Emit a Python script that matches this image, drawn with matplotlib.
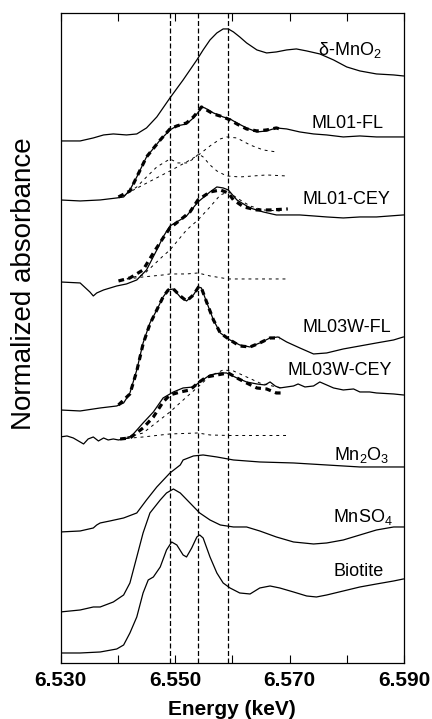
import matplotlib
matplotlib.use("Agg")
import matplotlib.pyplot as plt
import numpy as np

plt.rcParams['font.family'] = ['Liberation Sans', 'DejaVu Sans']
plt.rcParams['mathtext.fontset'] = 'custom'
plt.rcParams['mathtext.rm'] = 'Liberation Sans'
plt.rcParams['mathtext.it'] = 'Liberation Sans:italic'
plt.rcParams['mathtext.bf'] = 'Liberation Sans:bold'

# stacked spectra (energy in keV, normalized absorbance + offset)
mno2_e = [6.5299, 6.5334, 6.5357, 6.5375, 6.5392, 6.5415, 6.5433, 6.5450, 6.5468, 6.5491,
          6.5514, 6.5538, 6.5549, 6.5561, 6.5573, 6.5584, 6.5593, 6.5602, 6.5613, 6.5625,
          6.5643, 6.5660, 6.5677, 6.5695, 6.5712, 6.5730, 6.5753, 6.5777, 6.5800, 6.5823,
          6.5852, 6.5882, 6.5899]
mno2_y = [5.22, 5.22, 5.25, 5.28, 5.29, 5.28, 5.29, 5.35, 5.46, 5.65,
          5.83, 6.03, 6.13, 6.23, 6.30, 6.34, 6.34, 6.31, 6.26, 6.20,
          6.13, 6.10, 6.11, 6.13, 6.14, 6.12, 6.09, 6.03, 5.96, 5.92,
          5.89, 5.88, 5.87]

ml01fl_e = [6.5299, 6.5334, 6.5369, 6.5398, 6.5410, 6.5421, 6.5433, 6.5450, 6.5474, 6.5491,
            6.5503, 6.5520, 6.5532, 6.5541, 6.5546, 6.5552, 6.5567, 6.5584, 6.5596, 6.5608,
            6.5625, 6.5643, 6.5660, 6.5677, 6.5695, 6.5718, 6.5742, 6.5765, 6.5794, 6.5823,
            6.5852, 6.5899]
ml01fl_y = [4.63, 4.62, 4.63, 4.65, 4.66, 4.73, 4.86, 5.06, 5.23, 5.33,
            5.37, 5.39, 5.45, 5.51, 5.56, 5.55, 5.50, 5.46, 5.44, 5.40,
            5.35, 5.31, 5.32, 5.35, 5.34, 5.31, 5.29, 5.28, 5.26, 5.27,
            5.26, 5.26]
ml01fl_fit_e = [6.5401, 6.5421, 6.5433, 6.5450, 6.5474, 6.5491, 6.5503, 6.5520, 6.5532, 6.5541,
                6.5546, 6.5555, 6.5567, 6.5584, 6.5596, 6.5608, 6.5625, 6.5643, 6.5660, 6.5677, 6.5683]
ml01fl_fit_y = [4.66, 4.72, 4.86, 5.06, 5.23, 5.34, 5.37, 5.40, 5.46, 5.52,
                5.56, 5.53, 5.49, 5.46, 5.43, 5.39, 5.34, 5.32, 5.33, 5.35, 5.34]
ml01fl_c1_e = [6.5410, 6.5433, 6.5450, 6.5468, 6.5491, 6.5505, 6.5520, 6.5532, 6.5541, 6.5549,
               6.5561, 6.5573, 6.5590, 6.5613, 6.5637, 6.5660, 6.5695]
ml01fl_c1_y = [4.67, 4.76, 4.86, 4.96, 5.04, 5.00, 5.00, 5.04, 5.09, 5.06,
               4.98, 4.92, 4.87, 4.86, 4.87, 4.88, 4.87]
ml01fl_c2_e = [6.5404, 6.5444, 6.5491, 6.5520, 6.5541, 6.5561, 6.5579, 6.5590, 6.5608, 6.5631,
               6.5654, 6.5677]
ml01fl_c2_y = [4.66, 4.78, 4.92, 5.01, 5.08, 5.17, 5.24, 5.26, 5.25, 5.18,
               5.13, 5.11]

ml01cey_e = [6.5299, 6.5334, 6.5351, 6.5357, 6.5363, 6.5375, 6.5398, 6.5415, 6.5433, 6.5450,
             6.5468, 6.5479, 6.5491, 6.5503, 6.5520, 6.5540, 6.5561, 6.5573, 6.5584, 6.5593,
             6.5608, 6.5631, 6.5654, 6.5677, 6.5701, 6.5718, 6.5742, 6.5765, 6.5794, 6.5823,
             6.5852, 6.5899]
ml01cey_y = [3.81, 3.80, 3.71, 3.67, 3.70, 3.73, 3.77, 3.79, 3.83, 3.93,
             4.13, 4.26, 4.37, 4.41, 4.47, 4.61, 4.71, 4.76, 4.75, 4.73,
             4.63, 4.55, 4.51, 4.48, 4.48, 4.48, 4.47, 4.46, 4.45, 4.46,
             4.46, 4.48]
ml01cey_fit_e = [6.5401, 6.5421, 6.5444, 6.5462, 6.5479, 6.5491, 6.5509, 6.5526, 6.5540, 6.5561,
                 6.5579, 6.5593, 6.5602, 6.5620, 6.5643, 6.5666, 6.5697]
ml01cey_fit_y = [3.82, 3.85, 3.93, 4.10, 4.25, 4.35, 4.43, 4.51, 4.63, 4.71,
                 4.73, 4.70, 4.63, 4.56, 4.53, 4.53, 4.54]
ml01cey_c1_e = [6.5404, 6.5444, 6.5479, 6.5491, 6.5520, 6.5540, 6.5561, 6.5579, 6.5593, 6.5608,
                6.5631, 6.5654, 6.5683]
ml01cey_c1_y = [3.83, 3.88, 4.07, 4.13, 4.33, 4.43, 4.56, 4.68, 4.71, 4.65,
                4.57, 4.53, 4.52]
ml01cey_c2_e = [6.5404, 6.5444, 6.5479, 6.5491, 6.5520, 6.5540, 6.5561, 6.5593, 6.5631, 6.5695]
ml01cey_c2_y = [3.83, 3.86, 3.88, 3.89, 3.89, 3.90, 3.87, 3.84, 3.84, 3.84]

ml03fl_e = [6.5299, 6.5334, 6.5369, 6.5398, 6.5410, 6.5421, 6.5433, 6.5444, 6.5456, 6.5468,
            6.5479, 6.5488, 6.5497, 6.5509, 6.5520, 6.5532, 6.5541, 6.5546, 6.5555, 6.5567,
            6.5579, 6.5596, 6.5613, 6.5631, 6.5648, 6.5666, 6.5680, 6.5695, 6.5718, 6.5742,
            6.5765, 6.5794, 6.5823, 6.5852, 6.5882, 6.5899]
ml03fl_y = [2.53, 2.52, 2.55, 2.57, 2.60, 2.70, 2.93, 3.20, 3.40, 3.53,
            3.66, 3.73, 3.74, 3.66, 3.62, 3.68, 3.76, 3.75, 3.61, 3.43,
            3.30, 3.23, 3.18, 3.16, 3.20, 3.25, 3.26, 3.21, 3.15, 3.09,
            3.10, 3.14, 3.17, 3.20, 3.23, 3.26]
ml03fl_fit_e = [6.5401, 6.5421, 6.5433, 6.5444, 6.5456, 6.5468, 6.5479, 6.5488, 6.5497, 6.5509,
                6.5520, 6.5532, 6.5541, 6.5546, 6.5555, 6.5567, 6.5579, 6.5596, 6.5613, 6.5631,
                6.5648, 6.5666, 6.5683]
ml03fl_fit_y = [2.58, 2.69, 2.92, 3.19, 3.39, 3.53, 3.66, 3.73, 3.74, 3.67,
                3.62, 3.68, 3.76, 3.75, 3.61, 3.43, 3.30, 3.23, 3.17, 3.16,
                3.20, 3.25, 3.25]

ml03cey_e = [6.5299, 6.5311, 6.5322, 6.5331, 6.5340, 6.5348, 6.5357, 6.5366, 6.5375, 6.5383,
             6.5392, 6.5401, 6.5410, 6.5418, 6.5427, 6.5444, 6.5462, 6.5479, 6.5497, 6.5514,
             6.5532, 6.5543, 6.5561, 6.5579, 6.5590, 6.5608, 6.5625, 6.5643, 6.5657, 6.5666,
             6.5675, 6.5683, 6.5695, 6.5707, 6.5715, 6.5727, 6.5742, 6.5753, 6.5765, 6.5777,
             6.5794, 6.5812, 6.5823, 6.5840, 6.5852, 6.5882, 6.5899]
ml03cey_y = [2.26, 2.27, 2.25, 2.22, 2.19, 2.24, 2.26, 2.22, 2.25, 2.23,
             2.24, 2.23, 2.24, 2.25, 2.29, 2.40, 2.51, 2.65, 2.71, 2.75,
             2.76, 2.81, 2.88, 2.90, 2.90, 2.85, 2.81, 2.79, 2.78, 2.81,
             2.77, 2.75, 2.76, 2.77, 2.79, 2.76, 2.77, 2.81, 2.78, 2.75,
             2.73, 2.74, 2.71, 2.71, 2.70, 2.69, 2.68]
ml03cey_fit_e = [6.5404, 6.5421, 6.5444, 6.5462, 6.5479, 6.5491, 6.5509, 6.5526, 6.5540, 6.5555,
                 6.5573, 6.5593, 6.5608, 6.5625, 6.5643, 6.5660, 6.5677, 6.5689]
ml03cey_fit_y = [2.24, 2.25, 2.35, 2.46, 2.61, 2.68, 2.71, 2.73, 2.80, 2.86,
                 2.88, 2.90, 2.85, 2.80, 2.75, 2.74, 2.70, 2.70]
ml03cey_c1_e = [6.5404, 6.5444, 6.5491, 6.5520, 6.5540, 6.5561, 6.5584, 6.5602, 6.5625, 6.5648,
                6.5677, 6.5689]
ml03cey_c1_y = [2.24, 2.30, 2.51, 2.66, 2.76, 2.87, 2.93, 2.92, 2.86, 2.80,
                2.76, 2.75]
ml03cey_c2_e = [6.5404, 6.5444, 6.5491, 6.5540, 6.5561, 6.5593, 6.5695]
ml03cey_c2_y = [2.24, 2.26, 2.29, 2.30, 2.28, 2.275, 2.275]

mn2o3_e = [6.5299, 6.5334, 6.5357, 6.5363, 6.5369, 6.5386, 6.5410, 6.5433, 6.5450, 6.5468,
           6.5491, 6.5509, 6.5514, 6.5532, 6.5549, 6.5573, 6.5602, 6.5648, 6.5707, 6.5765,
           6.5823, 6.5899]
mn2o3_y = [1.31, 1.32, 1.35, 1.38, 1.40, 1.42, 1.45, 1.50, 1.63, 1.76,
           1.90, 1.98, 2.03, 2.07, 2.08, 2.06, 2.03, 2.01, 2.00, 1.98,
           1.96, 1.96]

mnso4_e = [6.5299, 6.5334, 6.5357, 6.5369, 6.5392, 6.5410, 6.5421, 6.5433, 6.5444, 6.5456,
           6.5474, 6.5485, 6.5497, 6.5509, 6.5526, 6.5543, 6.5561, 6.5579, 6.5602, 6.5625,
           6.5648, 6.5677, 6.5707, 6.5742, 6.5765, 6.5794, 6.5823, 6.5852, 6.5882, 6.5899]
mnso4_y = [0.51, 0.53, 0.56, 0.56, 0.61, 0.68, 0.80, 1.06, 1.30, 1.50,
           1.63, 1.70, 1.74, 1.70, 1.60, 1.50, 1.43, 1.38, 1.36, 1.36,
           1.32, 1.26, 1.21, 1.19, 1.20, 1.23, 1.28, 1.33, 1.36, 1.36]

biotite_e = [6.5299, 6.5334, 6.5369, 6.5398, 6.5410, 6.5421, 6.5433, 6.5444, 6.5453, 6.5462,
             6.5474, 6.5485, 6.5494, 6.5503, 6.5514, 6.5520, 6.5529, 6.5538, 6.5543, 6.5549,
             6.5561, 6.5573, 6.5584, 6.5596, 6.5613, 6.5631, 6.5648, 6.5666, 6.5683, 6.5707,
             6.5730, 6.5747, 6.5765, 6.5794, 6.5823, 6.5852, 6.5882, 6.5899]
biotite_y = [0.10, 0.10, 0.11, 0.14, 0.18, 0.30, 0.46, 0.70, 0.83, 0.86,
             0.96, 1.13, 1.21, 1.18, 1.08, 1.06, 1.15, 1.26, 1.28, 1.25,
             1.06, 0.90, 0.80, 0.75, 0.70, 0.69, 0.75, 0.77, 0.75, 0.71,
             0.67, 0.66, 0.68, 0.72, 0.76, 0.79, 0.82, 0.84]

ref_lines = [6.5491, 6.5540, 6.5593]

labels = ['δ-MnO$_2$', 'ML01-FL', 'ML01-CEY', 'ML03W-FL', 'ML03W-CEY',
          r'Mn$_2$O$_3$', r'MnSO$_4$', 'Biotite']
label_x = [6.5806, 6.5802, 6.5800, 6.5800, 6.5788, 6.5827, 6.5828, 6.5821]
label_y = [6.13, 5.39, 4.63, 3.35, 2.92, 2.08, 1.46, 0.91]

fig = plt.figure(figsize=(4.32, 7.19), dpi=100)
ax = fig.add_axes([0.1405, 0.0779, 0.7945, 0.9041])

solid = dict(color='black', lw=0.9)
fit = dict(color='black', lw=2.3, linestyle=(0, (1.8, 1.4)))
comp = dict(color='black', lw=0.7, linestyle=(0, (3, 4)))

for e, y in [(mno2_e, mno2_y), (ml01fl_e, ml01fl_y), (ml01cey_e, ml01cey_y),
             (ml03fl_e, ml03fl_y), (ml03cey_e, ml03cey_y), (mn2o3_e, mn2o3_y),
             (mnso4_e, mnso4_y), (biotite_e, biotite_y)]:
    ax.plot(e, y, **solid)

for e, y in [(ml01fl_c1_e, ml01fl_c1_y), (ml01fl_c2_e, ml01fl_c2_y),
             (ml01cey_c1_e, ml01cey_c1_y), (ml01cey_c2_e, ml01cey_c2_y),
             (ml03cey_c1_e, ml03cey_c1_y), (ml03cey_c2_e, ml03cey_c2_y)]:
    ax.plot(e, y, **comp)

for e, y in [(ml01fl_fit_e, ml01fl_fit_y), (ml01cey_fit_e, ml01cey_fit_y),
             (ml03fl_fit_e, ml03fl_fit_y), (ml03cey_fit_e, ml03cey_fit_y)]:
    ax.plot(e, y, **fit)

for xv in ref_lines:
    ax.axvline(xv, color='black', lw=0.9, linestyle=(0, (4, 2)))

for txt, x, y in zip(labels, label_x, label_y):
    ax.text(x, y, txt, fontsize=13, ha='center', va='center')

ax.set_xlim(6.530, 6.590)
ax.set_ylim(0, 6.5)
ticks = np.arange(6.530, 6.5901, 0.010)
ax.set_xticks(ticks)
ax.set_xticklabels(['6.530', '', '6.550', '', '6.570', '', '6.590'],
                   fontsize=15, fontweight='bold')
ax.set_yticks([])
ax.tick_params(axis='x', direction='in', top=True, length=6, width=0.8, pad=6)
for s in ax.spines.values():
    s.set_linewidth(0.9)

ax.set_xlabel('Energy (keV)', fontsize=15, fontweight='bold', labelpad=7)
ax.set_ylabel('Normalized absorbance', fontsize=20, va='center')
ax.yaxis.set_label_coords(-0.107, 0.583)

fig.savefig('out.png', dpi=100)
